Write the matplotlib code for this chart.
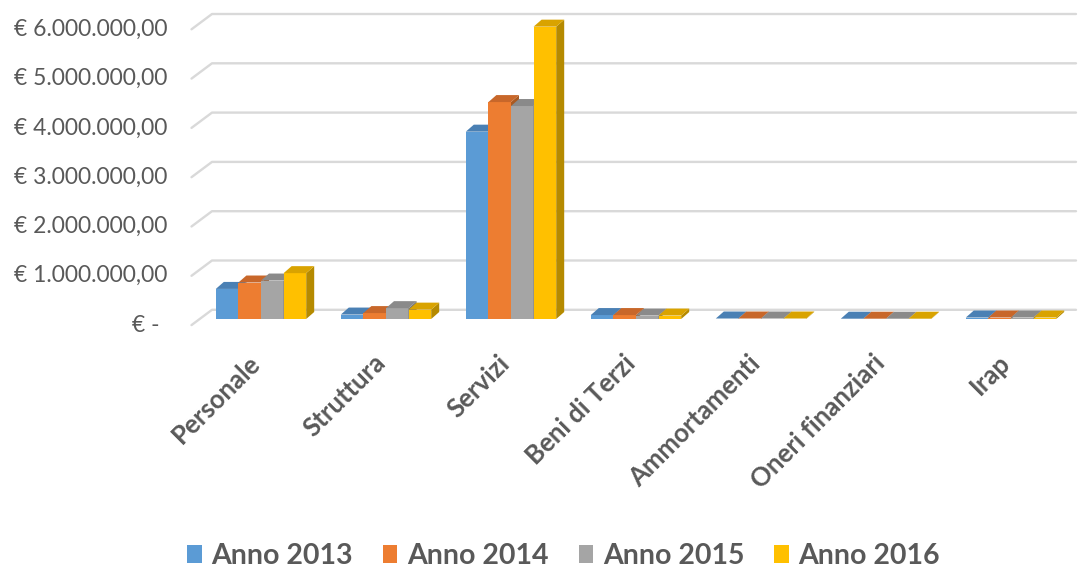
import matplotlib
matplotlib.use("Agg")
import matplotlib.pyplot as plt
from matplotlib.patches import Polygon, Rectangle

# ---- data -------------------------------------------------------------
categories = ["Personale", "Struttura", "Servizi", "Beni di Terzi",
              "Ammortamenti", "Oneri finanziari", "Irap"]
series_names = ["Anno 2013", "Anno 2014", "Anno 2015", "Anno 2016"]
anno_2013 = [610000, 90000, 3800000, 80000, 10000, 6000, 30000]
anno_2014 = [740000, 120000, 4400000, 80000, 10000, 6000, 30000]
anno_2015 = [780000, 220000, 4320000, 70000, 10000, 6000, 30000]
anno_2016 = [930000, 190000, 5930000, 70000, 10000, 6000, 30000]
y_ticks = [0, 1000000, 2000000, 3000000, 4000000, 5000000, 6000000]

series = [anno_2013, anno_2014, anno_2015, anno_2016]
front_colors = ["#5B9BD5", "#ED7D31", "#A5A5A5", "#FFC000"]
top_colors = ["#4A80B4", "#C8672A", "#8A8A8A", "#D9A300"]
side_colors = ["#3F6E9B", "#A95A22", "#767676", "#B58A00"]

FONT = ["Lato", "DejaVu Sans"]
TEXT_COLOR = "#595959"
GRID_COLOR = "#D9D9D9"

# ---- figure / axes geometry (pixels) ----------------------------------
W, H, DPI = 1080, 570, 100
fig = plt.figure(figsize=(W / DPI, H / DPI), dpi=DPI)

ax_left, ax_right, ax_top, ax_bottom = 186, 1080, 4, 332
ax = fig.add_axes([ax_left / W, 1 - ax_bottom / H,
                   (ax_right - ax_left) / W, (ax_bottom - ax_top) / H])
ax.set_axis_off()

cat_px0, cat_step = 261.0, 125.0       # x pixel of first category, spacing
base_px, px_per_unit = 319.0, 49.3e-6  # pixel of value 0, pixels per euro


def dx(px):
    return px / cat_step


def dy(px):
    return px / px_per_unit


ax.set_xlim((ax_left - cat_px0) / cat_step, (ax_right - cat_px0) / cat_step)
ax.set_ylim(-(ax_bottom - base_px) / px_per_unit,
            (base_px - ax_top) / px_per_unit)

bar_w = dx(22.6)
depth_x, depth_y = dx(8), dy(7)
wall_y = dy(9.2)                       # back wall shift above bar fronts
slant_x, slant_y = dx(20.5), dy(15.3)  # floor edge in front of the wall
wall_left = (212 - cat_px0) / cat_step
wall_right = (1076 - cat_px0) / cat_step


def euro(v):
    if v == 0:
        return "€ -"
    s = f"{v:,.2f}".replace(",", "X").replace(".", ",").replace("X", ".")
    return "€ " + s


# ---- gridlines on the back wall with slanted side-wall edge ------------
for v in y_ticks:
    yb = v + wall_y
    ax.plot([wall_left - slant_x, wall_left, wall_right],
            [yb - slant_y, yb, yb], color=GRID_COLOR, lw=1.7,
            solid_capstyle="round", zorder=1)
    xpos = (160 - cat_px0) / cat_step if v == 0 else (167 - cat_px0) / cat_step
    ax.text(xpos, yb - slant_y, euro(v), ha="right", va="center",
            fontsize=16.5, color=TEXT_COLOR, family=FONT, clip_on=False)

# ---- 3D-look bars -------------------------------------------------------
z = 2
for i in range(len(categories)):
    for j, vals in enumerate(series):
        v = vals[i]
        x0 = i + (j - 2) * bar_w
        x1 = x0 + bar_w
        ax.add_patch(Rectangle((x0, 0), bar_w, v, facecolor=front_colors[j],
                               edgecolor="none", zorder=z))
        ax.add_patch(Polygon([(x1, 0), (x1 + depth_x, depth_y),
                              (x1 + depth_x, v + depth_y), (x1, v)],
                             closed=True, facecolor=side_colors[j],
                             edgecolor="none", zorder=z))
        ax.add_patch(Polygon([(x0, v), (x1, v), (x1 + depth_x, v + depth_y),
                              (x0 + depth_x, v + depth_y)],
                             closed=True, facecolor=top_colors[j],
                             edgecolor="none", zorder=z))
        z += 1

# ---- category labels -----------------------------------------------------
for i, name in enumerate(categories):
    ax.text(i - dx(5), -dy(40), name, rotation=45, rotation_mode="anchor",
            ha="right", va="center", fontsize=18.5, fontweight="bold",
            color=TEXT_COLOR, family=FONT, clip_on=False)

# ---- legend ---------------------------------------------------------------
handles = [Rectangle((0, 0), 1, 1, facecolor=c, edgecolor="none")
           for c in front_colors]
leg = fig.legend(handles, series_names, loc="center",
                 bbox_to_anchor=(0.522, 1 - 556 / H), ncol=4, frameon=False,
                 handlelength=0.5, handleheight=0.55, handletextpad=0.35,
                 columnspacing=1.05,
                 prop={"family": FONT, "size": 20.5, "weight": "bold"})
for t in leg.get_texts():
    t.set_color(TEXT_COLOR)

fig.savefig("out.png", dpi=DPI, facecolor="white")
